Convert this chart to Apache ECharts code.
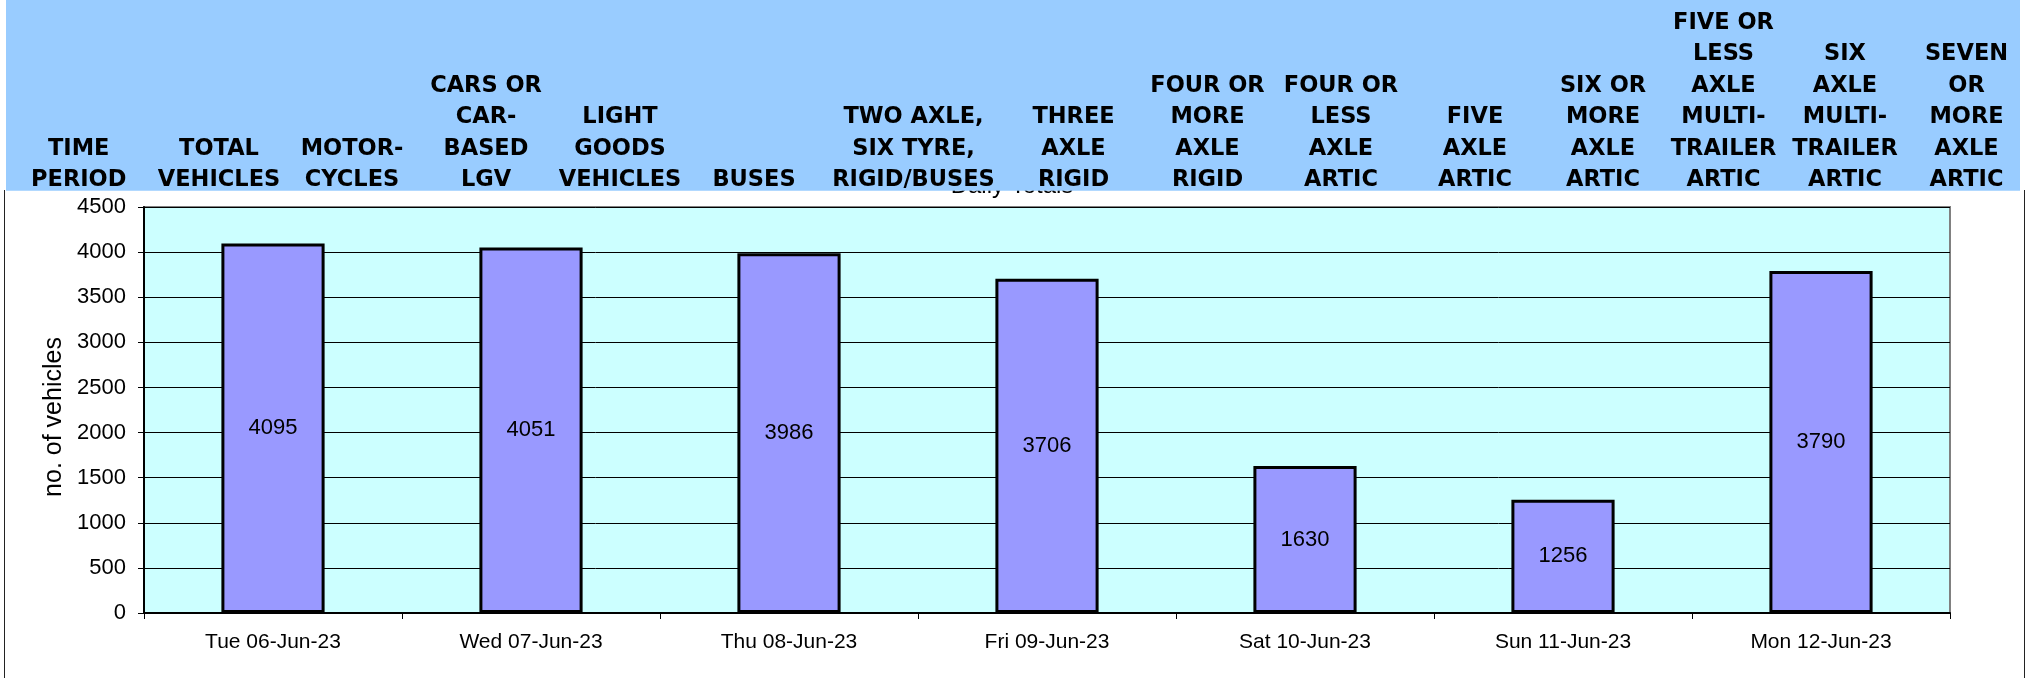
<!DOCTYPE html>
<html>
<head>
<meta charset="utf-8">
<script src="https://cdn.jsdelivr.net/npm/echarts@6/dist/echarts.min.js"></script>
<style>
html,body{margin:0;padding:0;background:#fff;}
#chart{width:2026px;height:678px;}
</style>
</head>
<body>
<div id="chart"></div>
<script>
// ---- data ----
const categories = ['Tue 06-Jun-23', 'Wed 07-Jun-23', 'Thu 08-Jun-23', 'Fri 09-Jun-23', 'Sat 10-Jun-23', 'Sun 11-Jun-23', 'Mon 12-Jun-23'];
const dailyTotals = [4095, 4051, 3986, 3706, 1630, 1256, 3790];
const yTicks = [0, 500, 1000, 1500, 2000, 2500, 3000, 3500, 4000, 4500];
const chartTitle = 'Daily Totals';
const yAxisTitle = 'no. of vehicles';
const headerLabels = [
  ['TIME', 'PERIOD'],
  ['TOTAL', 'VEHICLES'],
  ['MOTOR-', 'CYCLES'],
  ['CARS OR', 'CAR-', 'BASED', 'LGV'],
  ['LIGHT', 'GOODS', 'VEHICLES'],
  ['BUSES'],
  ['TWO AXLE,', 'SIX TYRE,', 'RIGID/BUSES'],
  ['THREE', 'AXLE', 'RIGID'],
  ['FOUR OR', 'MORE', 'AXLE', 'RIGID'],
  ['FOUR OR', 'LESS', 'AXLE', 'ARTIC'],
  ['FIVE', 'AXLE', 'ARTIC'],
  ['SIX OR', 'MORE', 'AXLE', 'ARTIC'],
  ['FIVE OR', 'LESS', 'AXLE', 'MULTI-', 'TRAILER', 'ARTIC'],
  ['SIX', 'AXLE', 'MULTI-', 'TRAILER', 'ARTIC'],
  ['SEVEN', 'OR', 'MORE', 'AXLE', 'ARTIC']
];

// ---- layout (positions only) ----
const headerCenters = [78.7, 219, 352, 486, 620, 754, 913.5, 1073.5, 1207.5, 1341, 1475, 1603, 1723.5, 1845, 1966.5];

const chart = echarts.init(document.getElementById('chart'));

const graphics = [
  { type: 'line', z: 5, shape: { x1: 4.5, y1: 190, x2: 4.5, y2: 678 }, style: { stroke: '#222', lineWidth: 1 } },
  { type: 'line', z: 5, shape: { x1: 2024.5, y1: 190, x2: 2024.5, y2: 678 }, style: { stroke: '#222', lineWidth: 1 } },
  { type: 'text', z: 1, x: 1012, y: 186, style: { text: chartTitle, fontFamily: 'Liberation Sans', fontSize: 24, fill: '#000', align: 'center', verticalAlign: 'middle' } },
  { type: 'rect', z: 10, shape: { x: 6, y: 0, width: 2014, height: 190.7 }, style: { fill: '#99CCFF' } }
];
headerLabels.forEach((lines, i) => {
  graphics.push({
    type: 'text', z: 11,
    x: headerCenters[i], y: 196,
    style: {
      text: lines.join('\n'),
      fontFamily: 'DejaVu Sans', fontWeight: 'bold', fontSize: 22.5,
      lineHeight: 31.5, fill: '#000', align: 'center', verticalAlign: 'bottom'
    }
  });
});

chart.setOption({
  animation: false,
  backgroundColor: '#fff',
  grid: {
    left: 144, right: 76, top: 207, bottom: 65,
    show: true, backgroundColor: '#CCFFFF', borderColor: '#808080', borderWidth: 2
  },
  xAxis: {
    type: 'category',
    data: categories,
    axisLine: { show: true, lineStyle: { color: '#000', width: 2 } },
    axisTick: { show: true, length: 6, lineStyle: { color: '#000' } },
    axisLabel: { color: '#000', fontFamily: 'Liberation Sans', fontSize: 21, margin: 19 }
  },
  yAxis: {
    type: 'value',
    min: yTicks[0], max: yTicks[yTicks.length - 1], interval: yTicks[1] - yTicks[0],
    name: yAxisTitle, nameLocation: 'middle', nameRotate: 90, nameGap: 64,
    nameTextStyle: { color: '#000', fontFamily: 'Liberation Sans', fontSize: 25, padding: [0, 14, 0, 0] },
    axisLine: { show: true, lineStyle: { color: '#000', width: 2 } },
    axisTick: { show: true, length: 6, lineStyle: { color: '#000' } },
    axisLabel: { color: '#000', fontFamily: 'Liberation Sans', fontSize: 22, margin: 18, formatter: v => String(v) },
    splitLine: { show: true, lineStyle: { color: '#000', width: 1 } }
  },
  series: [{
    type: 'bar',
    data: dailyTotals,
    barWidth: '40%',
    itemStyle: { color: '#9999FF', borderColor: '#000', borderWidth: 3 },
    label: { show: true, position: 'inside', color: '#000', fontFamily: 'Liberation Sans', fontSize: 22 }
  }],
  graphic: graphics
});
</script>
</body>
</html>
